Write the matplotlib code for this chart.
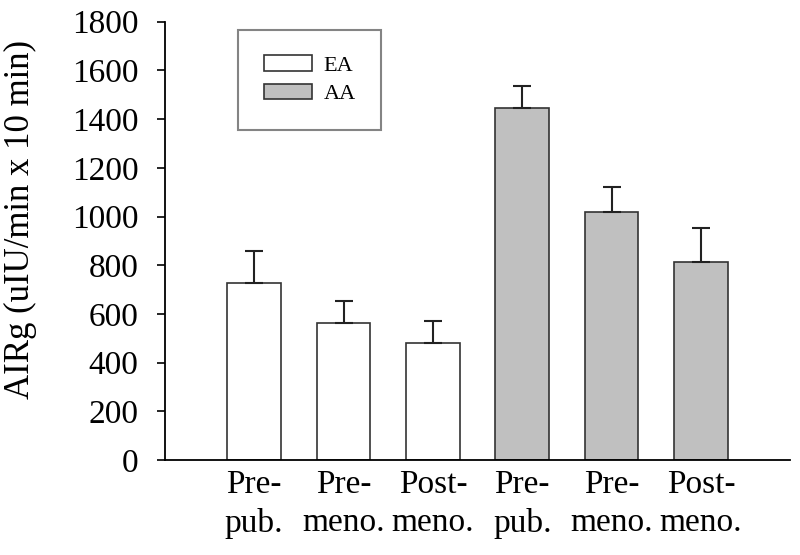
import matplotlib
matplotlib.use("Agg")
import matplotlib.pyplot as plt
import numpy as np

plt.rcParams['font.family'] = ['Liberation Serif', 'DejaVu Serif']

# data
groups = ['Pre-\npub.', 'Pre-\nmeno.', 'Post-\nmeno.']
ea_mean = [727, 563, 480]
ea_err = [133, 90, 92]
aa_mean = [1446, 1018, 814]
aa_err = [90, 103, 140]
y_ticks = [0, 200, 400, 600, 800, 1000, 1200, 1400, 1600, 1800]

fig = plt.figure(figsize=(8, 5.55), dpi=100)
ax = fig.add_axes([0.206, 0.171, 0.782, 0.79])

x_ea = np.arange(len(ea_mean))
x_aa = np.arange(len(aa_mean)) + len(ea_mean)
bw = 0.6
err_kw = dict(ecolor='#222222', elinewidth=1.5, capsize=6.5, capthick=1.5)

ax.bar(x_ea, ea_mean, bw, color='white', edgecolor='#333333', linewidth=1.2,
       yerr=[np.zeros(len(ea_err)), ea_err], error_kw=err_kw, label='EA')
ax.bar(x_aa, aa_mean, bw, color='#c0c0c0', edgecolor='#333333', linewidth=1.2,
       yerr=[np.zeros(len(aa_err)), aa_err], error_kw=err_kw, label='AA')

ax.set_xlim(-1, 6)
ax.set_ylim(0, 1800)
ax.set_yticks(y_ticks)
ax.set_xticks(np.concatenate([x_ea, x_aa]))
ax.set_xticklabels(groups + groups, fontsize=24, linespacing=1.3)
ax.tick_params(axis='x', length=0, pad=7)
ax.tick_params(axis='y', labelsize=24, length=6, width=1.2, direction='out', pad=13)
ax.set_ylabel('AIRg (uIU/min x 10 min)', fontsize=25)
ax.yaxis.set_label_coords(-0.205, 0.548)

for s in ['top', 'right']:
    ax.spines[s].set_visible(False)
for s in ['left', 'bottom']:
    ax.spines[s].set_linewidth(1.3)

leg = ax.legend(loc='upper left', bbox_to_anchor=(0.117, 0.982), fontsize=16,
                frameon=True, fancybox=False, handlelength=2.16, handleheight=0.72,
                borderpad=1.15, labelspacing=0.35, handletextpad=0.54, borderaxespad=0)
leg.get_frame().set_edgecolor('#666666')
leg.get_frame().set_linewidth(1.5)

fig.savefig('out.png', dpi=100)
